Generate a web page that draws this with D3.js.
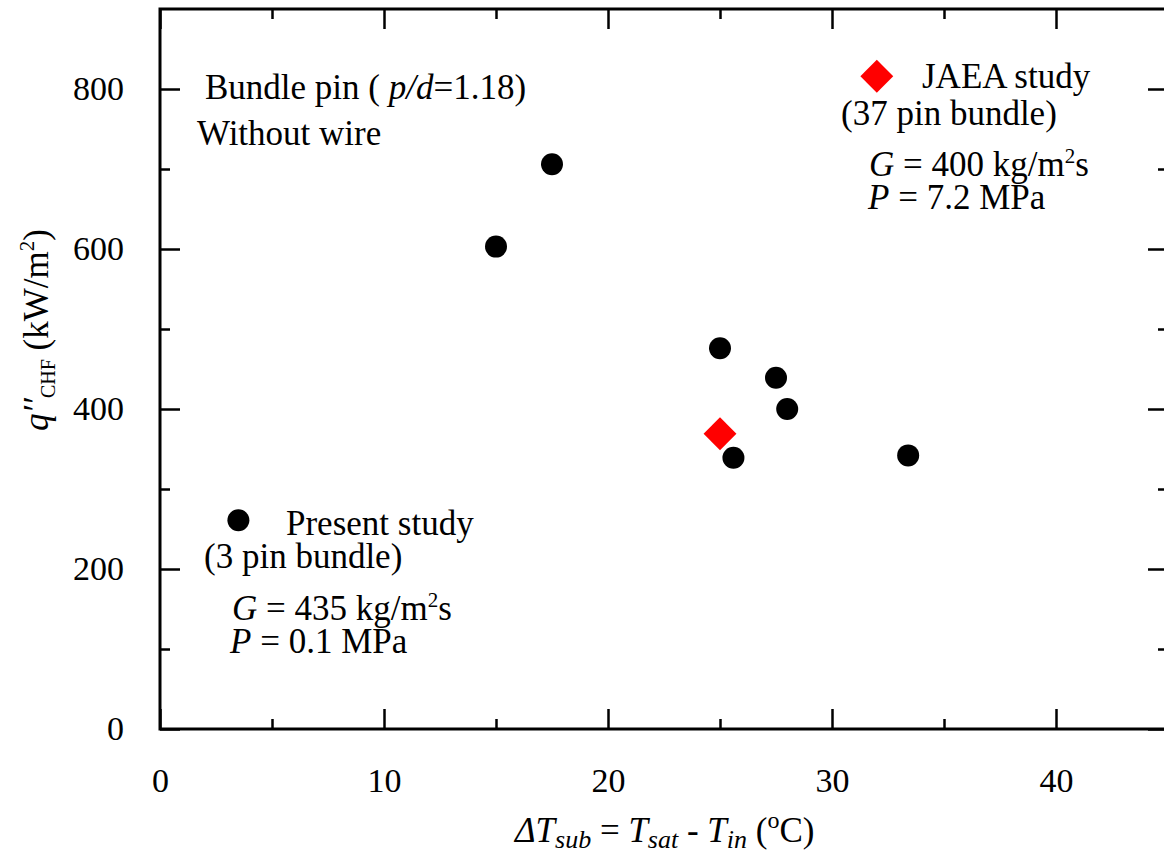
<!DOCTYPE html>
<html>
<head>
<meta charset="utf-8">
<script src="https://cdn.jsdelivr.net/npm/d3@7"></script>
<style>
  html, body { margin: 0; padding: 0; background: #fff; }
  svg { display: block; font-family: "Liberation Serif", "Times New Roman", serif; }
</style>
</head>
<body>
<svg id="chart" width="1164" height="855"></svg>
<script>
// Subcooling (°C) and critical heat flux (kW/m²)
const presentDT = [15, 17.5, 25, 25.6, 27.5, 28, 33.4];
const presentQ  = [603, 706, 476, 339, 439, 400, 342];
const jaeaDT = [25];
const jaeaQ  = [369];

const xMajorTicks = [0, 10, 20, 30, 40];
const xMinorTicks = [5, 15, 25, 35];
const yMajorTicks = [0, 200, 400, 600, 800];
const yMinorTicks = [100, 300, 500, 700];

// Legend symbol anchors in data units
const legendCircle  = [3.5, 261];
const legendDiamond = [32, 816];

const svg = d3.select("#chart");
const plotL = 160, plotR = 1168, plotT = 9, plotB = 729;

const x = d3.scaleLinear().domain([0, 45]).range([plotL, plotR]);
const y = d3.scaleLinear().domain([0, 900]).range([plotB, plotT]);

const FS = 35, TICK_FS = 34;

function styleAxis(g) {
  g.select(".domain").remove();
  g.selectAll(".tick line").attr("stroke", "#000").attr("stroke-width", 2.5);
}

// bottom axis
svg.append("g").attr("transform", `translate(0,${plotB})`)
  .call(d3.axisBottom(x).tickValues(xMajorTicks).tickSizeInner(-20).tickSizeOuter(0).tickFormat(d3.format("d")))
  .call(styleAxis)
  .call(g => g.selectAll("text").attr("y", 63).attr("dy", 0)
     .attr("font-size", TICK_FS).attr("font-family", "Liberation Serif").attr("fill", "#000"));
svg.append("g").attr("transform", `translate(0,${plotB})`)
  .call(d3.axisBottom(x).tickValues(xMinorTicks).tickSizeInner(-10).tickSizeOuter(0).tickFormat(""))
  .call(styleAxis);

// top axis (ticks only)
svg.append("g").attr("transform", `translate(0,${plotT})`)
  .call(d3.axisTop(x).tickValues(xMajorTicks).tickSizeInner(-20).tickSizeOuter(0).tickFormat(""))
  .call(styleAxis);
svg.append("g").attr("transform", `translate(0,${plotT})`)
  .call(d3.axisTop(x).tickValues(xMinorTicks).tickSizeInner(-10).tickSizeOuter(0).tickFormat(""))
  .call(styleAxis);

// left axis
svg.append("g").attr("transform", `translate(${plotL},0)`)
  .call(d3.axisLeft(y).tickValues(yMajorTicks).tickSizeInner(-20).tickSizeOuter(0).tickFormat(d3.format("d")))
  .call(styleAxis)
  .call(g => g.selectAll("text").attr("x", -36).attr("dy", "0.32em")
     .attr("font-size", TICK_FS).attr("font-family", "Liberation Serif").attr("fill", "#000"));
svg.append("g").attr("transform", `translate(${plotL},0)`)
  .call(d3.axisLeft(y).tickValues(yMinorTicks).tickSizeInner(-10).tickSizeOuter(0).tickFormat(""))
  .call(styleAxis);

// right axis (ticks only)
svg.append("g").attr("transform", `translate(${plotR},0)`)
  .call(d3.axisRight(y).tickValues(yMajorTicks).tickSizeInner(-20).tickSizeOuter(0).tickFormat(""))
  .call(styleAxis);
svg.append("g").attr("transform", `translate(${plotR},0)`)
  .call(d3.axisRight(y).tickValues(yMinorTicks).tickSizeInner(-10).tickSizeOuter(0).tickFormat(""))
  .call(styleAxis);

// frame
svg.append("rect")
  .attr("x", plotL).attr("y", plotT)
  .attr("width", plotR - plotL).attr("height", plotB - plotT)
  .attr("fill", "none").attr("stroke", "#000").attr("stroke-width", 3);

// data
const R = 11;
const diamondPath = d3.symbol().type(d3.symbolSquare).size(540);

svg.append("g").selectAll("circle")
  .data(presentDT.map((d, i) => [d, presentQ[i]]))
  .join("circle")
  .attr("cx", d => x(d[0])).attr("cy", d => y(d[1])).attr("r", R).attr("fill", "#000");

svg.append("g").selectAll("path")
  .data(jaeaDT.map((d, i) => [d, jaeaQ[i]]))
  .join("path")
  .attr("d", diamondPath)
  .attr("transform", d => `translate(${x(d[0])},${y(d[1])}) rotate(45)`)
  .attr("fill", "#ff0000");

// legend symbols
svg.append("circle")
  .attr("cx", x(legendCircle[0])).attr("cy", y(legendCircle[1])).attr("r", R).attr("fill", "#000");
svg.append("path")
  .attr("d", diamondPath)
  .attr("transform", `translate(${x(legendDiamond[0])},${y(legendDiamond[1])}) rotate(45)`)
  .attr("fill", "#ff0000");

// rich text helper: parts = [text, {italic, shift, size}]
function rich(xp, yp, parts, opts = {}) {
  const t = svg.append("text").attr("x", xp).attr("y", yp)
    .attr("font-size", opts.size || FS).attr("fill", "#000");
  if (opts.anchor) t.attr("text-anchor", opts.anchor);
  if (opts.transform) t.attr("transform", opts.transform).attr("x", 0).attr("y", 0);
  let cur = 0;
  parts.forEach(p => {
    const [s, o = {}] = Array.isArray(p) ? p : [p, {}];
    const shift = o.shift || 0;
    const ts = t.append("tspan").text(s);
    const dy = shift - cur;
    if (dy !== 0) ts.attr("dy", dy);
    cur = shift;
    if (o.italic) ts.attr("font-style", "italic");
    if (o.size) ts.attr("font-size", o.size);
  });
  return t;
}

rich(205, 99, ["Bundle pin ( ", ["p/d", {italic: true}], "=1.18)"]);
rich(197, 145, ["Without wire"]);

rich(922, 88, ["JAEA study"]);
rich(841, 125, ["(37 pin bundle)"]);
rich(869, 176, [["G", {italic: true}], " = 400 kg/m", ["2", {size: 21, shift: -13}], ["s", {shift: 0}]]);
rich(868, 209, [["P", {italic: true}], " = 7.2 MPa"]);

rich(286, 535, ["Present study"]);
rich(204, 568, ["(3 pin bundle)"]);
rich(232, 620, [["G", {italic: true}], " = 435 kg/m", ["2", {size: 21, shift: -13}], ["s", {shift: 0}]]);
rich(230, 653, [["P", {italic: true}], " = 0.1 MPa"]);

// axis titles
rich(515, 842, [
  ["ΔT", {italic: true}], ["sub", {italic: true, size: 26, shift: 6}],
  [" = ", {shift: 0}], ["T", {italic: true}], ["sat", {italic: true, size: 26, shift: 6}],
  [" - ", {shift: 0}], ["T", {italic: true}], ["in", {italic: true, size: 26, shift: 6}],
  [" (", {shift: 0}], ["o", {size: 24, shift: -14}], ["C)", {shift: 0}]
]);

rich(0, 0, [
  ["q′′", {italic: true}], ["CHF", {size: 20, shift: 7}],
  [" (kW/m", {shift: 0}], ["2", {size: 21, shift: -14}], [")", {shift: 0}]
], {anchor: "middle", transform: "translate(48,330) rotate(-90)"});
</script>
</body>
</html>
